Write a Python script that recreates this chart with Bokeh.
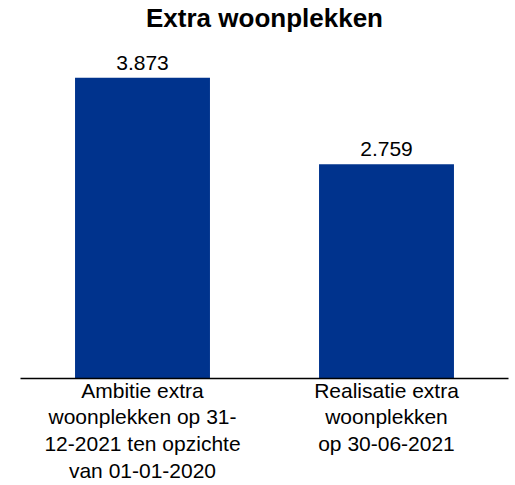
from bokeh.plotting import figure
from bokeh.models import ColumnDataSource, LabelSet, FactorRange, Range1d
from bokeh.core.properties import value
from bokeh.embed import file_html
from bokeh.resources import INLINE

categories = [
    "Ambitie extra\nwoonplekken op 31-\n12-2021 ten opzichte\nvan 01-01-2020",
    "Realisatie extra\nwoonplekken\nop 30-06-2021",
]
values = [3873, 2759]
title_text = "Extra woonplekken"

value_texts = [f"{v:,}".replace(",", ".") for v in values]

src = ColumnDataSource(dict(cat=categories, val=values, vtxt=value_texts))

FONT = "Liberation Sans"
BAR = "#00338D"

p = figure(width=513, height=485, output_backend="svg", toolbar_location=None,
           x_range=FactorRange(*categories, range_padding=0),
           y_range=Range1d(0, max(values) * 1.15),
           min_border_left=20, min_border_right=5, min_border_bottom=0,
           min_border_top=0)

p.title.text = title_text
p.title.align = "center"
p.title.text_font = FONT
p.title.text_font_size = "26px"
p.title.text_font_style = "bold"
p.title.text_color = "#000000"
p.title.standoff = 0

p.vbar(x="cat", top="val", width=0.553, source=src, color=BAR, line_color=None)

p.add_layout(LabelSet(x="cat", y="val", text="vtxt", source=src,
                      text_align="center", text_baseline="alphabetic",
                      y_offset=8, text_font=value(FONT), text_font_size=value("21px"),
                      text_color="#000000"))

p.yaxis.visible = False
p.xgrid.visible = False
p.ygrid.visible = False
p.outline_line_color = None
p.xaxis.axis_line_color = "#000000"
p.xaxis.axis_line_width = 1.5
p.xaxis.major_tick_line_color = None
p.xaxis.minor_tick_line_color = None
p.xaxis.major_label_text_font = FONT
p.xaxis.major_label_text_font_size = "21px"
p.xaxis.major_label_text_color = "#000000"
p.xaxis.major_label_text_line_height = 1.17
p.xaxis.major_label_standoff = -6
p.xaxis.major_label_orientation = "horizontal"

open("out.html", "w").write(file_html(p, INLINE))
